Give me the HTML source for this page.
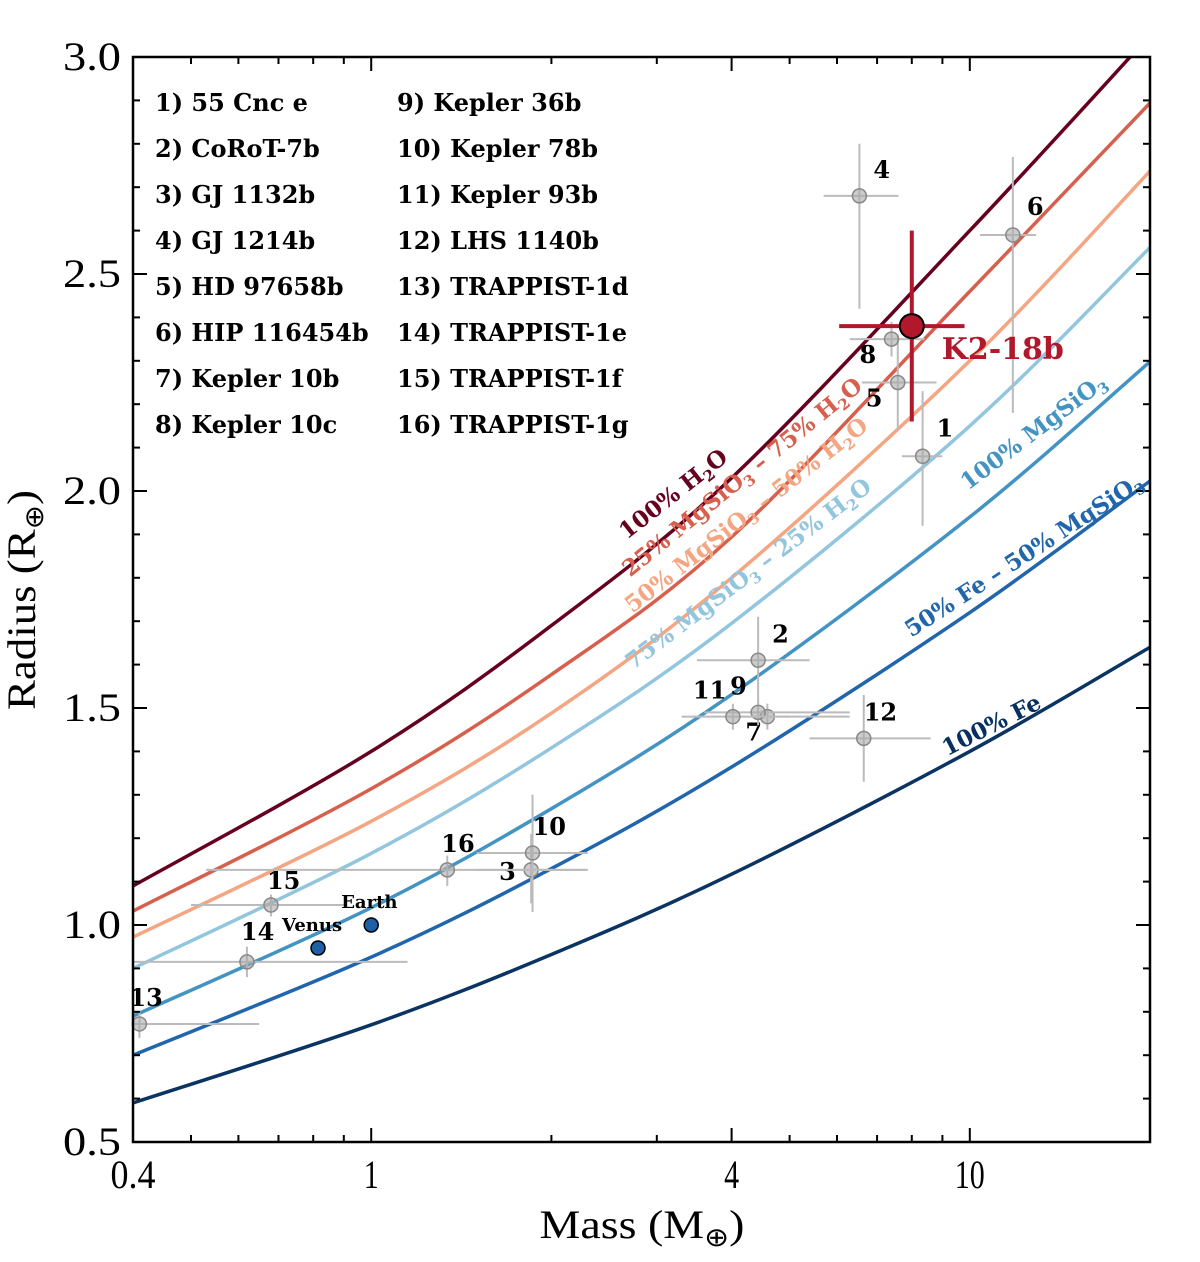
<!DOCTYPE html>
<html><head><meta charset="utf-8"><style>
body{margin:0;background:#fff}
svg text{font-family:"DejaVu Serif","Liberation Serif",serif}
.tk{font-family:"Liberation Serif",serif;font-size:40px}
.lg{font-weight:bold;font-size:24px}
</style></head><body>
<svg id="chart" width="1200" height="1257" xmlns="http://www.w3.org/2000/svg">
<g id="curves"></g>
<g id="points"></g>
<g id="axes"></g>
<g class="lg" fill="#000">
<text x="155" y="111">1) 55 Cnc e</text>
<text x="155" y="157">2) CoRoT-7b</text>
<text x="155" y="203">3) GJ 1132b</text>
<text x="155" y="249">4) GJ 1214b</text>
<text x="155" y="295">5) HD 97658b</text>
<text x="155" y="341">6) HIP 116454b</text>
<text x="155" y="387">7) Kepler 10b</text>
<text x="155" y="433">8) Kepler 10c</text>
<text x="397" y="111">9) Kepler 36b</text>
<text x="397" y="157">10) Kepler 78b</text>
<text x="397" y="203">11) Kepler 93b</text>
<text x="397" y="249">12) LHS 1140b</text>
<text x="397" y="295">13) TRAPPIST-1d</text>
<text x="397" y="341">14) TRAPPIST-1e</text>
<text x="397" y="387">15) TRAPPIST-1f</text>
<text x="397" y="433">16) TRAPPIST-1g</text>
</g>
<g font-weight="bold" font-size="23" text-anchor="middle">
<text fill="#67001f" transform="translate(678,500) rotate(-38)">100% H<tspan font-size="15" dy="5">2</tspan><tspan dy="-5">O</tspan></text>
<text fill="#d6604d" transform="translate(747,483) rotate(-39)">25% MgSiO<tspan font-size="15" dy="5">3</tspan><tspan dy="-5"> – 75% H</tspan><tspan font-size="15" dy="5">2</tspan><tspan dy="-5">O</tspan></text>
<text fill="#f4a582" transform="translate(751,521) rotate(-38)">50% MgSiO<tspan font-size="15" dy="5">3</tspan><tspan dy="-5"> – 50% H</tspan><tspan font-size="15" dy="5">2</tspan><tspan dy="-5">O</tspan></text>
<text fill="#92c5de" transform="translate(753,580) rotate(-37)">75% MgSiO<tspan font-size="15" dy="5">3</tspan><tspan dy="-5"> – 25% H</tspan><tspan font-size="15" dy="5">2</tspan><tspan dy="-5">O</tspan></text>
<text fill="#4393c3" transform="translate(1038,438) rotate(-37)">100% MgSiO<tspan font-size="15" dy="5">3</tspan></text>
<text fill="#2166ac" transform="translate(1028,562) rotate(-33)">50% Fe – 50% MgSiO<tspan font-size="15" dy="5">3</tspan></text>
<text fill="#053061" transform="translate(995,732) rotate(-27)">100% Fe</text>
</g>
<text class="tk" x="642" y="1238" text-anchor="middle" textLength="205" lengthAdjust="spacingAndGlyphs">Mass (M<tspan font-size="26" dy="8">⊕</tspan><tspan dy="-8">)</tspan></text>
<text class="tk" transform="translate(35,600) rotate(-90)" text-anchor="middle" textLength="220" lengthAdjust="spacingAndGlyphs">Radius (R<tspan font-size="26" dy="8">⊕</tspan><tspan dy="-8">)</tspan></text>
</svg>
<script>
const curveNames=['100% Fe','50% Fe - 50% MgSiO3','100% MgSiO3','75% MgSiO3 - 25% H2O','50% MgSiO3 - 50% H2O','25% MgSiO3 - 75% H2O','100% H2O'];
const curveColors=['#0b3462','#2166ac','#4393c3','#92c5de','#f4a582','#d6604d','#67001f'];
const curveMasses=[0.4,1,2,4,10,20];
const radiusFe=[0.59,0.77,0.932,1.117,1.40,1.64];
const radiusFeMg=[0.70,0.926,1.130,1.364,1.720,2.023];
const radiusMg=[0.79,1.04,1.268,1.531,1.94,2.298];
const radius75=[0.90,1.165,1.408,1.695,2.150,2.561];
const radius50=[0.972,1.239,1.488,1.80,2.30,2.737];
const radius25=[1.032,1.314,1.577,1.894,2.46,2.894];
const radiusH2O=[1.09,1.40,1.69,2.03,2.60,3.05];
const planetLabels=['1','2','3','4','5','6','7','8','9','10','11','12','13','14','15','16'];
const planetMass=[8.34,4.43,1.85,6.54,7.58,11.8,4.59,7.4,4.43,1.86,4.02,6.65,0.41,0.62,0.68,1.34];
const planetRadius=[2.08,1.61,1.127,2.68,2.25,2.59,1.48,2.35,1.49,1.166,1.48,1.43,0.772,0.915,1.046,1.127];
const massLo=[7.7,3.5,1.5,5.7,6.6,10.4,3.9,6.3,3.6,1.5,3.3,5.4,0.4,0.4,0.5,0.53];
const massHi=[9.0,5.4,2.3,7.6,8.8,12.9,6.3,8.4,6.3,2.3,5.0,8.6,0.65,1.15,0.91,2.3];
const radLo=[1.92,1.51,1.05,2.42,2.14,2.18,1.45,2.31,1.46,1.03,1.45,1.33,0.74,0.88,1.02,1.09];
const radHi=[2.23,1.71,1.21,2.80,2.36,2.77,1.51,2.39,1.52,1.30,1.51,1.53,0.80,0.95,1.07,1.16];
const labelDx=[14,14,-32,14,-32,14,-22,-32,-28,0,-40,0,-10,-6,-4,-6];
const labelDy=[-20,-18,10,-18,24,-20,24,24,-18,-18,-18,-18,-18,-22,-16,-18];
const solarNames=['Venus','Earth'];
const solarMass=[0.815,1.0];
const solarRadius=[0.947,1.0];
const k2Mass=8.0, k2Radius=2.38, k2MassLo=6.05, k2MassHi=9.8, k2RadLo=2.16, k2RadHi=2.60;
const xTickMajor=[0.4,1,4,10];
const xTickLabels=['0.4','1','4','10'];
const xTickMinor=[0.5,0.6,0.7,0.8,0.9,2,3,5,6,7,8,9,20];
const yTickMajor=[0.5,1.0,1.5,2.0,2.5,3.0];
const yTickLabels=['0.5','1.0','1.5','2.0','2.5','3.0'];

const L=133,R=1150,T=57,B=1142,XMIN=0.4,XMAX=20,YMIN=0.5,YMAX=3.0;
const sx=m=>L+(Math.log10(m)-Math.log10(XMIN))/(Math.log10(XMAX)-Math.log10(XMIN))*(R-L);
const sy=r=>B-(r-YMIN)/(YMAX-YMIN)*(B-T);
const NS='http://www.w3.org/2000/svg';
function mk(tag,attrs,parent){const e=document.createElementNS(NS,tag);for(const k in attrs)e.setAttribute(k,attrs[k]);parent.appendChild(e);return e;}

const svg=document.getElementById('chart');
const defs=mk('defs',{},svg);
const cp=mk('clipPath',{id:'plotclip'},defs);
mk('rect',{x:L,y:T,width:R-L,height:B-T},cp);

const cg=document.getElementById('curves');
cg.setAttribute('clip-path','url(#plotclip)');
const curveData=[radiusFe,radiusFeMg,radiusMg,radius75,radius50,radius25,radiusH2O];
curveData.forEach((rs,ci)=>{
  const P=curveMasses.map((m,i)=>[sx(m),sy(rs[i])]);
  let d='M'+P[0][0]+','+P[0][1];
  for(let i=0;i<P.length-1;i++){
    const p0=P[Math.max(0,i-1)],p1=P[i],p2=P[i+1],p3=P[Math.min(P.length-1,i+2)];
    const c1=[p1[0]+(p2[0]-p0[0])/6,p1[1]+(p2[1]-p0[1])/6];
    const c2=[p2[0]-(p3[0]-p1[0])/6,p2[1]-(p3[1]-p1[1])/6];
    d+=' C'+c1+' '+c2+' '+p2;
  }
  const p=mk('path',{d:d,fill:'none',stroke:curveColors[ci],'stroke-width':3.5},cg);
  
  
});

const pg=document.getElementById('points');
planetMass.forEach((m,i)=>{
  const g=mk('g',{},pg);
  
  
  const x=sx(m),y=sy(planetRadius[i]);
  mk('line',{x1:sx(massLo[i]),x2:sx(massHi[i]),y1:y,y2:y,stroke:'#bbb','stroke-width':2},g);
  mk('line',{x1:x,x2:x,y1:sy(radLo[i]),y2:sy(radHi[i]),stroke:'#bbb','stroke-width':2},g);
  mk('circle',{cx:x,cy:y,r:7,fill:'#aaa','fill-opacity':0.6,stroke:'#888','stroke-width':1.5},g);
  const t=mk('text',{x:x+labelDx[i],y:y+labelDy[i],'font-size':24,'font-weight':'bold'},g);
  t.textContent=planetLabels[i];
});
solarMass.forEach((m,i)=>{
  const g=mk('g',{},pg);
  
  
  const x=sx(m),y=sy(solarRadius[i]);
  mk('circle',{cx:x,cy:y,r:7,fill:'#1f5fa6',stroke:'#000','stroke-width':1.5},g);
  const t=mk('text',{x:i==0?x-36:x-30,y:y-17,'font-size':18,'font-weight':'bold'},g);
  t.textContent=solarNames[i];
});
{
  const g=mk('g',{},pg);
  
  
  const x=sx(k2Mass),y=sy(k2Radius);
  mk('line',{x1:sx(k2MassLo),x2:sx(k2MassHi),y1:y,y2:y,stroke:'#b2182b','stroke-width':4},g);
  mk('line',{x1:x,x2:x,y1:sy(k2RadLo),y2:sy(k2RadHi),stroke:'#b2182b','stroke-width':4},g);
  mk('circle',{cx:x,cy:y,r:12,fill:'#b2182b',stroke:'#000','stroke-width':2},g);
  const t=mk('text',{x:x+30,y:y+33,'font-size':30,'font-weight':'bold',fill:'#b2182b'},g);
  t.textContent='K2-18b';
}

const ag=document.getElementById('axes');
const frame=mk('rect',{x:L,y:T,width:R-L,height:B-T,fill:'none',stroke:'#000','stroke-width':2.5},ag);


function tick(x1,y1,x2,y2){mk('line',{x1,y1,x2,y2,stroke:'#000','stroke-width':2},ag);}
xTickMajor.forEach((m,i)=>{
  const x=sx(m);tick(x,B,x,B-14);tick(x,T,x,T+14);
  const t=mk('text',{x:x,y:B+46,'text-anchor':'middle',class:'tk'},ag);
  
  
  t.textContent=xTickLabels[i];
  t.setAttribute('textLength',xTickLabels[i].length*15);
  t.setAttribute('lengthAdjust','spacingAndGlyphs');
});
xTickMinor.forEach(m=>{const x=sx(m);tick(x,B,x,B-7);tick(x,T,x,T+7);});
for(let k=5;k<=30;k++){
  const r=k/10,y=sy(r),maj=(k%5===0);
  const len=maj?14:7;
  tick(L,y,L+len,y);tick(R,y,R-len,y);
}
yTickMajor.forEach((r,i)=>{
  const t=mk('text',{x:121,y:sy(r)+13,'text-anchor':'end',class:'tk'},ag);
  
  
  t.textContent=yTickLabels[i];
  t.setAttribute('textLength',58);
  t.setAttribute('lengthAdjust','spacingAndGlyphs');
});
</script>
</body></html>
